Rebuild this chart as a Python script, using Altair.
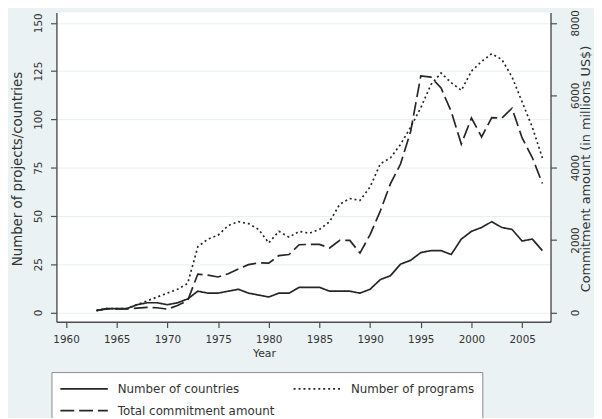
import altair as alt
import pandas as pd

years = list(range(1963, 2008))

countries = [1, 2, 2, 2, 4, 5, 5, 4, 5, 7,
             11, 10, 10, 11, 12, 10, 9, 8, 10, 10,
             13, 13, 13, 11, 11, 11, 10, 12, 17, 19,
             25, 27, 31, 32, 32, 30, 38, 42, 44, 47,
             44, 43, 37, 38, 32]

programs = [1, 2, 2, 2, 4, 6, 8, 10, 12, 15,
            34, 38, 40, 45, 47, 46, 43, 36, 42, 39,
            42, 41, 43, 47, 56, 59, 58, 65, 77, 80,
            87, 96, 106, 118, 124, 119, 115, 125, 130, 134,
            131, 122, 109, 96, 80]

commitment = [50, 100, 100, 100, 120, 140, 130, 90, 190, 330,
              1060, 1030, 980, 1070, 1200, 1320, 1370, 1360, 1570, 1600,
              1870, 1880, 1880, 1780, 1990, 1990, 1640, 2150, 2800, 3550,
              4100, 5000, 6530, 6500, 6200, 5550, 4650, 5370, 4850, 5380,
              5370, 5640, 4820, 4280, 3560]

series_names = ["Number of countries", "Number of programs", "Total commitment amount"]
x_ticks = [1960, 1965, 1970, 1975, 1980, 1985, 1990, 1995, 2000, 2005]
left_ticks = [0, 25, 50, 75, 100, 125, 150]
right_ticks = [0, 2000, 4000, 6000, 8000]

left_df = pd.DataFrame({
    "year": years + years,
    "series": [series_names[0]] * len(years) + [series_names[1]] * len(years),
    "value": countries + programs,
})
right_df = pd.DataFrame({
    "year": years,
    "series": [series_names[2]] * len(years),
    "value": commitment,
})

INK = "#262626"
AX = "#4d4d4d"
FONT = "DejaVu Sans"

dash_scale = alt.Scale(domain=series_names, range=[[1, 0], [2, 3], [14, 5]])

x_enc = alt.X(
    "year:Q",
    scale=alt.Scale(domain=[1959.05, 2007.8], nice=False, zero=False),
    axis=alt.Axis(
        values=x_ticks, format="d", title="Year", grid=False,
        tickSize=6, labelPadding=7, labelFontSize=10.5,
        titleX=210, titleY=32, titleAlign="center", titleBaseline="middle",
        titleFontSize=11,
    ),
)

legend = alt.Legend(
    orient="none", legendX=-5, legendY=364, columns=2, direction="horizontal",
    title=None,
    symbolType="M-1,0H5", symbolSize=256, symbolStrokeWidth=1.7,
    symbolStrokeColor=INK, labelFontSize=12, labelFont=FONT, labelColor="#333333",
    labelOffset=41, columnPadding=15, rowPadding=7, padding=8,
    fillColor="white", strokeColor="#8a8a8a",
    labelExpr="datum.label == 'Number of programs' ? datum.label + '\u00a0\u00a0\u00a0\u00a0' : datum.label",
)

left_layer = alt.Chart(left_df).mark_line(color=INK, strokeWidth=1.7).encode(
    x=x_enc,
    y=alt.Y(
        "value:Q",
        scale=alt.Scale(domain=[-4.8, 155.4], nice=False, zero=False),
        axis=alt.Axis(
            orient="left", values=left_ticks, title="Number of projects/countries",
            grid=True, gridColor="#e8eff1", gridWidth=1,
            tickSize=6, labelPadding=7, labelAngle=270, labelAlign="center",
            labelBaseline="bottom", labelFontSize=10.5,
            titleAngle=270, titleX=-39, titleY=158, titleAlign="center",
            titleBaseline="middle", titleFontSize=13.5,
        ),
    ),
    strokeDash=alt.StrokeDash("series:N", scale=dash_scale, legend=legend),
    detail="series:N",
)

right_layer = alt.Chart(right_df).mark_line(color=INK, strokeWidth=1.7).encode(
    x=x_enc,
    y=alt.Y(
        "value:Q",
        scale=alt.Scale(domain=[-256, 8288], nice=False, zero=False),
        axis=alt.Axis(
            orient="right", values=right_ticks, title="Commitment amount (in millions US$)",
            grid=False, format="d",
            tickSize=6, labelPadding=14, labelAngle=270, labelAlign="center",
            labelBaseline="top", labelFontSize=10.5,
            titleAngle=270, titleX=35, titleY=158, titleAlign="center",
            titleBaseline="middle", titleFontSize=13,
        ),
    ),
    strokeDash=alt.StrokeDash("series:N", scale=dash_scale, legend=legend),
)

chart = (
    alt.layer(left_layer, right_layer)
    .resolve_scale(y="independent")
    .properties(
        width=500, height=313,
        autosize=alt.AutoSizeParams(type="none"),
        padding={"left": 49, "top": 2, "right": 44, "bottom": 95},
        background="#EAF2F3",
    )
    .configure_view(fill="white", strokeWidth=0)
    .configure_axis(
        domainColor=AX, domainWidth=1.4, tickColor=AX, tickWidth=1.2,
        labelColor="#333333", titleColor="#333333", labelFont=FONT, titleFont=FONT,
        titleFontWeight="normal",
    )
)

chart.save("out.html", embed_options={"renderer": "svg", "actions": False})
